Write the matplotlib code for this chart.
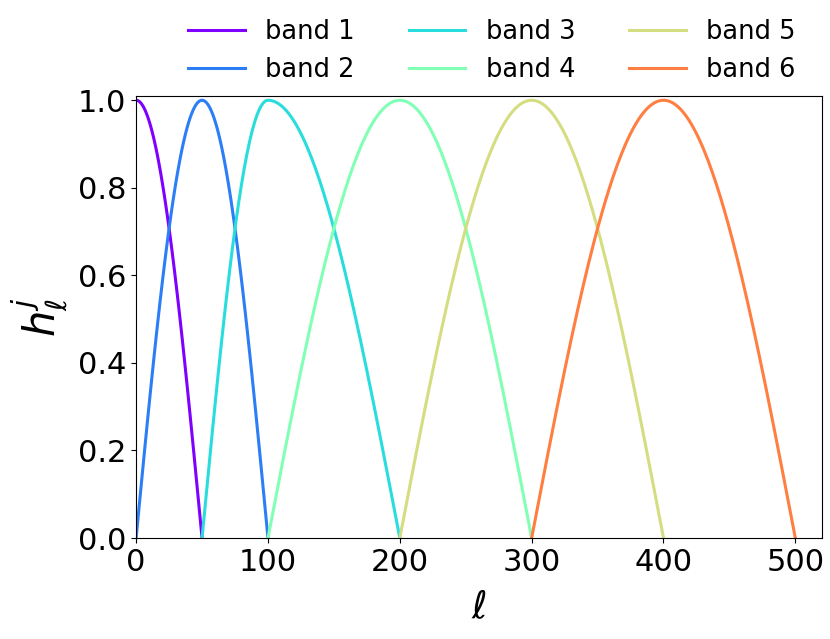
import numpy as np
import matplotlib
matplotlib.use("Agg")
import matplotlib.pyplot as plt

# band definitions (ell_min, ell_peak, ell_max)
band_labels = ["band 1", "band 2", "band 3", "band 4", "band 5", "band 6"]
ell_min = [0, 0, 50, 100, 200, 300]
ell_peak = [0, 50, 100, 200, 300, 400]
ell_max = [50, 100, 200, 300, 400, 500]
xticks = [0, 100, 200, 300, 400, 500]
yticks = [0.0, 0.2, 0.4, 0.6, 0.8, 1.0]

fig = plt.figure(figsize=(8.30, 6.39), dpi=100)
ax = fig.add_axes([0.164, 0.158, 0.826, 0.692])

colors = plt.cm.rainbow(np.linspace(0, 1, 7))
ell = np.arange(0, 501)
for i, lab in enumerate(band_labels):
    lo, pk, hi = ell_min[i], ell_peak[i], ell_max[i]
    h = np.zeros_like(ell, dtype=float)
    if pk > lo:
        m = (ell >= lo) & (ell <= pk)
        h[m] = np.cos(0.5 * np.pi * (pk - ell[m]) / (pk - lo))
    m = (ell >= pk) & (ell <= hi)
    h[m] = np.cos(0.5 * np.pi * (ell[m] - pk) / (hi - pk))
    sel = (ell >= lo) & (ell <= hi)
    ax.plot(ell[sel], h[sel], color=colors[i], lw=2.2, label=lab)

ax.set_xlim(0, 520)
ax.set_ylim(0, 1.01)
ax.set_xticks(xticks)
ax.set_yticks(yticks)
ax.tick_params(labelsize=22)
ax.set_xlabel(r"$\ell$", fontsize=27, labelpad=10)
ax.set_ylabel(r"$h_\ell^j$", fontsize=30, labelpad=6)
ax.legend(ncol=3, frameon=False, fontsize=18.5, loc="lower center",
          bbox_to_anchor=(0.519, 1.005), columnspacing=2.1, handlelength=2.2,
          borderaxespad=0.0, labelspacing=0.5)
fig.savefig("out.png", dpi=100)
